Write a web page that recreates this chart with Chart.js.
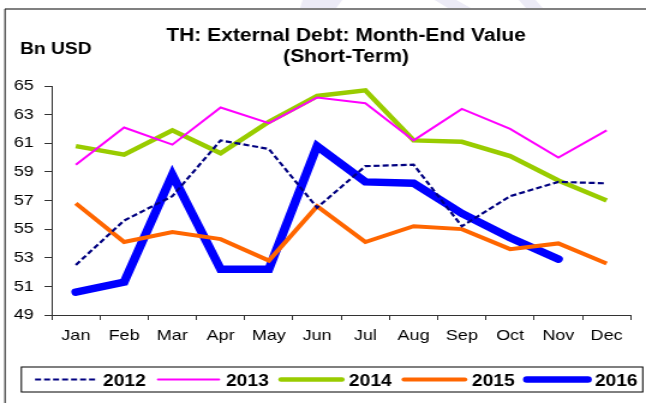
<!DOCTYPE html>
<html>
<head>
<meta charset="utf-8">
<script src="https://cdn.jsdelivr.net/npm/chart.js@4"></script>
<style>
  html, body { margin: 0; padding: 0; background: #fff; }
  #c { display: block; width: 646px; height: 403px; }
</style>
</head>
<body>
<canvas id="c" width="538" height="403" style="width:646px;height:403px;display:block"></canvas>
<script>
// ---- data ----
const months = ['Jan','Feb','Mar','Apr','May','Jun','Jul','Aug','Sep','Oct','Nov','Dec'];
const years = ['2012','2013','2014','2015','2016'];
const v2012 = [52.5, 55.6, 57.3, 61.2, 60.6, 56.5, 59.4, 59.5, 55.2, 57.3, 58.3, 58.2];
const v2013 = [59.5, 62.1, 60.9, 63.5, 62.4, 64.2, 63.8, 61.2, 63.4, 62.0, 60.0, 61.9];
const v2014 = [60.8, 60.2, 61.9, 60.3, 62.5, 64.3, 64.7, 61.2, 61.1, 60.1, 58.4, 57.0];
const v2015 = [56.8, 54.1, 54.8, 54.3, 52.8, 56.6, 54.1, 55.2, 55.0, 53.6, 54.0, 52.6];
const v2016 = [50.6, 51.3, 58.8, 52.2, 52.2, 60.8, 58.3, 58.2, 56.1, 54.4, 52.9];
const yTicksMin = 49, yTicksMax = 65, yStep = 2;
const titleLines = ['TH: External Debt: Month-End Value', '(Short-Term)'];
const unitLabel = 'Bn USD';

const FONT = "'Liberation Sans', Arial, sans-serif";
const styles = [
  { color: '#000080', width: 2.2, dash: [5, 2.5] },
  { color: '#FF00FF', width: 2, dash: [] },
  { color: '#99CC00', width: 4.5, dash: [] },
  { color: '#FF6600', width: 4, dash: [] },
  { color: '#0000FF', width: 7.5, dash: [] }
];
const series = [v2012, v2013, v2014, v2015, v2016];

const datasets = years.map((y, i) => ({
  label: y,
  data: series[i],
  borderColor: styles[i].color,
  backgroundColor: styles[i].color,
  borderWidth: styles[i].width,
  borderDash: styles[i].dash,
  borderJoinStyle: 'miter',
  borderCapStyle: i === 4 ? 'round' : 'butt',
  pointRadius: 0,
  pointHoverRadius: 0,
  tension: 0,
  fill: false,
  order: i
})).reverse();

const decor = {
  id: 'decor',
  beforeDraw(chart) {
    const ctx = chart.ctx;
    ctx.save();
    ctx.fillStyle = '#fff';
    ctx.fillRect(0, 0, chart.width, chart.height);
    // faint watermark shapes above frame
    ctx.fillStyle = '#ECEBF6';
    ctx.beginPath();
    ctx.moveTo(252, 0); ctx.lineTo(285, 0); ctx.lineTo(280, 8); ctx.lineTo(250, 8); ctx.closePath();
    ctx.fill();
    ctx.beginPath();
    ctx.moveTo(362, 0); ctx.lineTo(380, 0); ctx.lineTo(392, 8); ctx.lineTo(373, 8); ctx.closePath();
    ctx.fill();
    ctx.beginPath();
    ctx.moveTo(432, 0); ctx.lineTo(446, 0); ctx.lineTo(452, 8); ctx.lineTo(438, 8); ctx.closePath();
    ctx.fill();
    // frame
    ctx.strokeStyle = '#808080';
    ctx.lineWidth = 2;
    ctx.beginPath();
    ctx.moveTo(4, 9); ctx.lineTo(chart.width, 9);
    ctx.stroke();
    ctx.strokeStyle = '#333';
    ctx.lineWidth = 1.2;
    ctx.beginPath();
    ctx.moveTo(4.2, 9); ctx.lineTo(4.2, chart.height);
    ctx.stroke();
    ctx.restore();
  },
  afterDraw(chart) {
    const ctx = chart.ctx;
    ctx.save();
    ctx.fillStyle = '#000';
    ctx.textBaseline = 'alphabetic';
    // title
    ctx.font = 'bold 17.5px ' + FONT;
    ctx.textAlign = 'center';
    ctx.fillText(titleLines[0], 288.2, 40.5);
    ctx.fillText(titleLines[1], 288.2, 62);
    // unit
    ctx.font = 'bold 16px ' + FONT;
    ctx.textAlign = 'left';
    ctx.fillText(unitLabel, 16.7, 54);
    // legend box
    ctx.strokeStyle = '#000';
    ctx.lineWidth = 1;
    ctx.strokeRect(17.8, 367, 517.5, 25);
    const ds = chart.data.datasets.slice().sort((a, b) => a.order - b.order);
    const rowY = 379.5;
    ds.forEach((d, i) => {
      const x0 = 29.2 + i * 102.4;
      ctx.save();
      ctx.strokeStyle = d.borderColor;
      ctx.lineWidth = Math.min(d.borderWidth, 6.5);
      ctx.setLineDash(d.borderDash || []);
      ctx.lineCap = d.borderDash && d.borderDash.length ? 'butt' : 'round';
      ctx.beginPath();
      ctx.moveTo(x0, rowY); ctx.lineTo(x0 + 50.8, rowY);
      ctx.stroke();
      ctx.restore();
      ctx.font = 'bold 16px ' + FONT;
      ctx.fillStyle = '#000';
      ctx.textAlign = 'left';
      ctx.fillText(d.label, x0 + 56.6, rowY + 6);
    });
    ctx.restore();
  }
};

new Chart(document.getElementById('c'), {
  type: 'line',
  data: { labels: months, datasets },
  options: {
    responsive: false,
    animation: false,
    devicePixelRatio: 1,
    layout: { padding: { left: 0, right: 12.7, top: 86, bottom: 0 } },
    plugins: { legend: { display: false }, title: { display: false }, tooltip: { enabled: false } },
    scales: {
      x: {
        type: 'category',
        offset: true,
        grid: { display: true, drawOnChartArea: false, drawTicks: true, tickLength: 5, color: '#333', offset: true },
        border: { display: true, color: '#333', width: 1 },
        ticks: { color: '#000', font: { family: FONT, size: 15 }, padding: 7, maxRotation: 0, autoSkip: false },
        afterFit(s) { s.height = 88; }
      },
      y: {
        min: yTicksMin, max: yTicksMax,
        grid: { display: true, drawOnChartArea: false, drawTicks: true, tickLength: 6, color: '#333' },
        border: { display: true, color: '#333', width: 1 },
        ticks: { stepSize: yStep, color: '#000', font: { family: FONT, size: 15 }, padding: 9 },
        afterFit(s) { s.width = 43.06; }
      }
    }
  },
  plugins: [decor]
});
</script>
</body>
</html>
